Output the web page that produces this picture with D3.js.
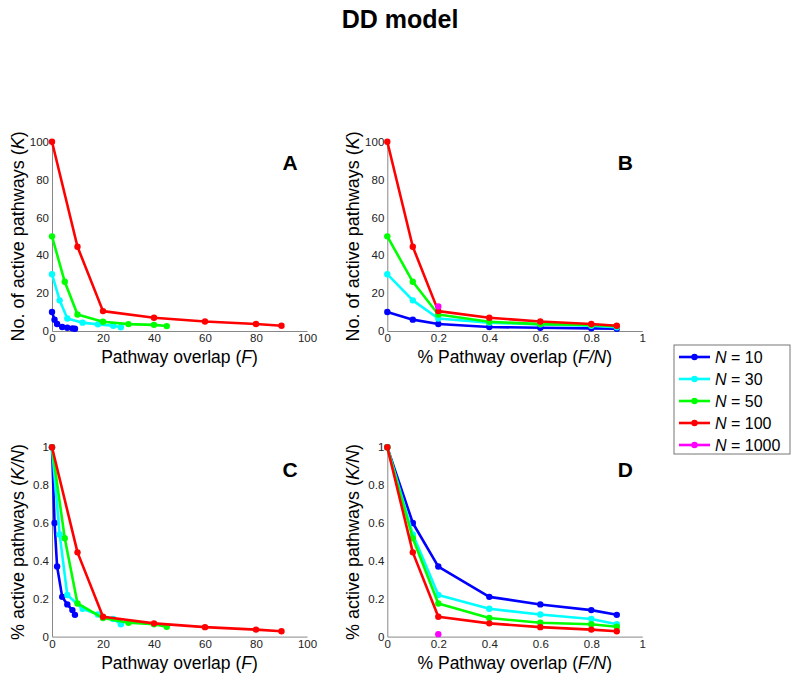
<!DOCTYPE html>
<html>
<head>
<meta charset="utf-8">
<script src="https://cdn.jsdelivr.net/npm/d3@7/dist/d3.min.js"></script>
<style>
  body { margin: 0; background: #fff; }
  text { font-family: "Liberation Sans", Arial, Helvetica, sans-serif; }
</style>
</head>
<body>
<svg id="chart" width="800" height="681"></svg>
<script>
// ---- data ----
const seriesNames = ["N = 10", "N = 30", "N = 50", "N = 100", "N = 1000"];
const seriesN = [10, 30, 50, 100, 1000];
const seriesColors = ["#0000ff", "#00ffff", "#00ff00", "#ff0000", "#ff00ff"];
const fractions10 = [0, 0.1, 0.2, 0.4, 0.6, 0.8, 0.9];
const fractions30 = [0, 0.1, 0.2, 0.4, 0.6, 0.8, 0.9];
const fractions50 = [0, 0.1, 0.2, 0.4, 0.6, 0.8, 0.9];
const fractions100 = [0, 0.1, 0.2, 0.4, 0.6, 0.8, 0.9];
const fractions1000 = [0.2];
// fraction of active pathways K/N
const active10 = [1, 0.60, 0.37, 0.21, 0.17, 0.14, 0.115];
const active30 = [1, 0.54, 0.22, 0.147, 0.117, 0.093, 0.065];
const active50 = [1, 0.52, 0.175, 0.098, 0.073, 0.065, 0.052];
const active100 = [1, 0.445, 0.105, 0.07, 0.05, 0.037, 0.028];
const active1000 = [0.013];
const xTicksF = [0, 20, 40, 60, 80, 100];
const xTicksFN = [0, 0.2, 0.4, 0.6, 0.8, 1];
const yTicksK = [0, 20, 40, 60, 80, 100];
const yTicksKN = [0, 0.2, 0.4, 0.6, 0.8, 1];

const fracs = [fractions10, fractions30, fractions50, fractions100, fractions1000];
const acts = [active10, active30, active50, active100, active1000];
const series = seriesN.map((N, i) => ({
  name: seriesNames[i], N, color: seriesColors[i],
  pts: fracs[i].map((f, j) => ({ F: f * N, FN: f, K: acts[i][j] * N, KN: acts[i][j] }))
}));

const svg = d3.select("#chart");

svg.append("text").attr("x", 400).attr("y", 28).attr("text-anchor", "middle")
  .attr("font-size", 25).attr("font-weight", "bold").text("DD model");

const panels = [
  { letter: "A", left: 52, top: 141.7, xKey: "F", yKey: "K", xDom: [0, 100], yDom: [0, 100], xt: xTicksF, yt: yTicksK, xl: "F", yl: "K" },
  { letter: "B", left: 387.3, top: 141.7, xKey: "FN", yKey: "K", xDom: [0, 1], yDom: [0, 100], xt: xTicksFN, yt: yTicksK, xl: "FN", yl: "K" },
  { letter: "C", left: 52, top: 447.3, xKey: "F", yKey: "KN", xDom: [0, 100], yDom: [0, 1], xt: xTicksF, yt: yTicksKN, xl: "F", yl: "KN" },
  { letter: "D", left: 387.3, top: 447.3, xKey: "FN", yKey: "KN", xDom: [0, 1], yDom: [0, 1], xt: xTicksFN, yt: yTicksKN, xl: "FN", yl: "KN" }
];
const W = 255, H = 189.3;

panels.forEach(p => {
  const g = svg.append("g").attr("transform", `translate(${p.left},${p.top})`);
  const x = d3.scaleLinear().domain(p.xDom).range([0, W]);
  const y = d3.scaleLinear().domain(p.yDom).range([H, 0]);

  const xAxis = g.append("g").attr("transform", `translate(0,${H})`)
    .call(d3.axisBottom(x).tickValues(p.xt).tickFormat(d3.format("~g")).tickSizeInner(0).tickSizeOuter(0).tickPadding(3));
  const yAxis = g.append("g")
    .call(d3.axisLeft(y).tickValues(p.yt).tickFormat(d3.format("~g")).tickSizeInner(0).tickSizeOuter(0).tickPadding(3));
  [xAxis, yAxis].forEach(a => {
    a.select(".domain").attr("stroke", "#888").attr("stroke-width", 1);
    a.selectAll(".tick line").attr("stroke", "#888");
    a.selectAll(".tick text").attr("font-size", 11.5).attr("fill", "#222")
      .attr("font-family", '"Liberation Sans", Arial, sans-serif');
  });

  const line = d3.line().x(d => x(d[p.xKey])).y(d => y(d[p.yKey]));
  series.forEach(s => {
    const pts = s.pts.filter(d => d[p.xKey] <= p.xDom[1]);
    if (!pts.length) return;
    if (pts.length > 1) {
      g.append("path").datum(pts).attr("d", line).attr("fill", "none")
        .attr("stroke", s.color).attr("stroke-width", 2.6).attr("stroke-linejoin", "round");
    }
    g.selectAll(null).data(pts).enter().append("circle")
      .attr("cx", d => x(d[p.xKey])).attr("cy", d => y(d[p.yKey])).attr("r", 3.2)
      .attr("fill", s.color);
  });

  // panel letter
  g.append("text").attr("x", W - 17).attr("y", p.letter === "A" || p.letter === "B" ? 28.3 : 29.7)
    .attr("text-anchor", "middle").attr("font-size", 21).attr("font-weight", "bold").text(p.letter);

  // x label
  const xl = g.append("text").attr("x", W / 2).attr("y", H + 32).attr("text-anchor", "middle").attr("font-size", 17.5);
  if (p.xl === "F") {
    xl.append("tspan").text("Pathway overlap (");
    xl.append("tspan").attr("font-style", "italic").text("F");
    xl.append("tspan").text(")");
  } else {
    xl.append("tspan").text("% Pathway overlap (");
    xl.append("tspan").attr("font-style", "italic").text("F/N");
    xl.append("tspan").text(")");
  }
  // y label
  const yl = g.append("text").attr("transform", `translate(-28,${H / 2}) rotate(-90)`)
    .attr("text-anchor", "middle").attr("font-size", 18);
  if (p.yl === "K") {
    yl.append("tspan").text("No. of active pathways (");
    yl.append("tspan").attr("font-style", "italic").text("K");
    yl.append("tspan").text(")");
  } else {
    yl.append("tspan").text("% active pathways (");
    yl.append("tspan").attr("font-style", "italic").text("K/N");
    yl.append("tspan").text(")");
  }
});

// legend
const lg = svg.append("g").attr("transform", "translate(674,345)");
lg.append("rect").attr("width", 116).attr("height", 109).attr("fill", "#fff")
  .attr("stroke", "#777").attr("stroke-width", 1);
series.forEach((s, i) => {
  const yy = 12 + i * 22;
  lg.append("line").attr("x1", 5).attr("x2", 36).attr("y1", yy).attr("y2", yy)
    .attr("stroke", s.color).attr("stroke-width", 2.6);
  lg.append("circle").attr("cx", 20.5).attr("cy", yy).attr("r", 3.2).attr("fill", s.color);
  const t = lg.append("text").attr("x", 41).attr("y", yy + 5.5).attr("font-size", 16);
  t.append("tspan").attr("font-style", "italic").text("N");
  t.append("tspan").text(s.name.slice(1));
});
</script>
</body>
</html>
